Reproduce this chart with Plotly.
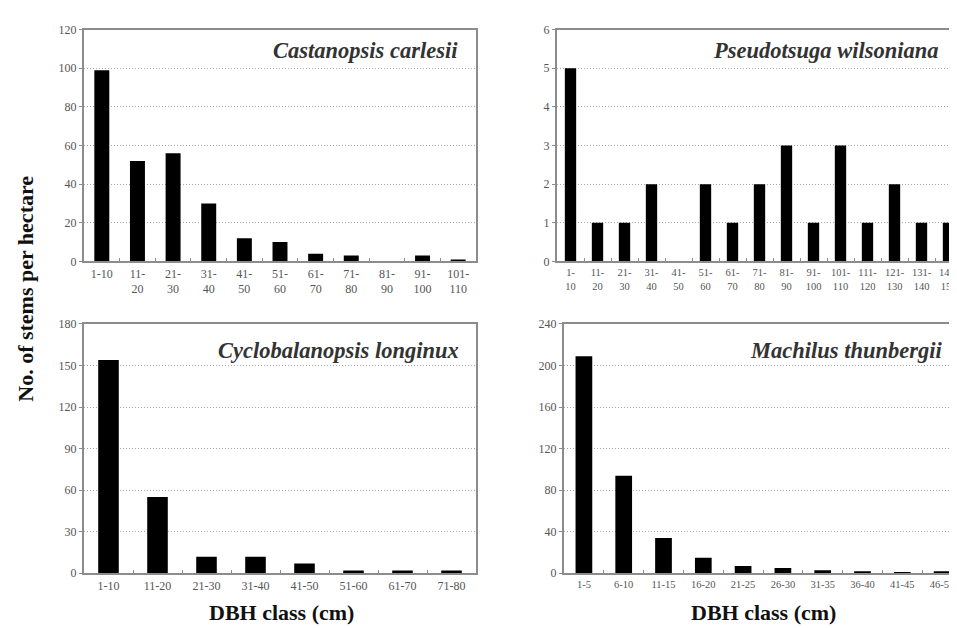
import plotly.graph_objects as go

# ---- data ----
cc_classes = ["1-10", "11-<br>20", "21-<br>30", "31-<br>40", "41-<br>50", "51-<br>60",
              "61-<br>70", "71-<br>80", "81-<br>90", "91-<br>100", "101-<br>110"]
cc_values = [99, 52, 56, 30, 12, 10, 4, 3, 0, 3, 1]

pw_classes = ["1-<br>10", "11-<br>20", "21-<br>30", "31-<br>40", "41-<br>50", "51-<br>60",
              "61-<br>70", "71-<br>80", "81-<br>90", "91-<br>100", "101-<br>110",
              "111-<br>120", "121-<br>130", "131-<br>140", "141-<br>150"]
pw_values = [5, 1, 1, 2, 0, 2, 1, 2, 3, 1, 3, 1, 2, 1, 1]

cl_classes = ["1-10", "11-20", "21-30", "31-40", "41-50", "51-60", "61-70", "71-80"]
cl_values = [154, 55, 12, 12, 7, 2, 2, 2]

mt_classes = ["1-5", "6-10", "11-15", "16-20", "21-25", "26-30", "31-35", "36-40", "41-45", "46-50"]
mt_values = [209, 94, 34, 15, 7, 5, 3, 2, 1, 2]

panels = [
    ("Castanopsis carlesii", cc_classes, cc_values, [0, 120], 20, 12),
    ("Pseudotsuga wilsoniana", pw_classes, pw_values, [0, 6], 1, 10.5),
    ("Cyclobalanopsis longinux", cl_classes, cl_values, [0, 180], 30, 12),
    ("Machilus thunbergii", mt_classes, mt_values, [0, 240], 40, 10.5),
]

W, H = 957, 628
xdoms = [[76 / W, 468 / W], [549 / W, 954 / W], [76 / W, 468 / W], [556 / W, 954 / W]]
ydoms = [[1 - 252 / H, 1 - 15 / H], [1 - 252 / H, 1 - 15 / H],
         [1 - 571 / H, 1 - 316 / H], [1 - 571 / H, 1 - 316 / H]]
title_pos = [(0.958, 0.911), (0.946, 0.911), (0.963, 0.894), (0.955, 0.894)]

SERIF = "Liberation Serif, Times New Roman, serif"
FRAME = "#8c8c8c"

fig = go.Figure()
annotations = []
for i, (name, cats, vals, yr, dt, xfs) in enumerate(panels):
    k = "" if i == 0 else str(i + 1)
    fig.add_trace(go.Bar(x=cats, y=vals, marker=dict(color="black", line=dict(width=0)),
                         width=0.42, xaxis="x" + k, yaxis="y" + k, showlegend=False))
    fig.layout["xaxis" + k] = dict(
        domain=xdoms[i], anchor="y" + k, type="category", showgrid=False,
        showline=True, linecolor=FRAME, linewidth=2, mirror=True,
        ticks="inside", tickson="boundaries", ticklen=3, tickcolor=FRAME, tickwidth=1,
        tickangle=0, tickfont=dict(family=SERIF, size=xfs, color="#555"), zeroline=False)
    fig.layout["yaxis" + k] = dict(
        domain=ydoms[i], anchor="x" + k, range=yr, dtick=dt, tick0=0,
        showline=True, linecolor=FRAME, linewidth=2, mirror=True,
        ticks="outside", ticklen=3, tickcolor=FRAME,
        showgrid=True, gridcolor="#a8a8a8", griddash="1px,2px", gridwidth=1,
        zeroline=False, tickfont=dict(family=SERIF, size=12, color="#555"))
    tx, ty = title_pos[i]
    annotations.append(dict(
        text="<b><i>" + name + "</i></b>", xref="x" + k + " domain", yref="y" + k + " domain",
        x=tx, y=ty, xanchor="right", yanchor="middle", showarrow=False,
        font=dict(family=SERIF, size=22.5, color="#333")))

annotations += [
    dict(text="<b>No. of stems per hectare</b>", xref="paper", yref="paper",
         x=18 / W, y=1 - 280 / H, xanchor="center", yanchor="middle",
         textangle=-90, showarrow=False,
         font=dict(family=SERIF, size=22, color="#111")),
    dict(text="<b>DBH class (cm)</b>", xref="paper", yref="paper",
         x=273 / W, y=1 - 611 / H, xanchor="center", yanchor="middle", showarrow=False,
         font=dict(family=SERIF, size=22, color="#111")),
    dict(text="<b>DBH class (cm)</b>", xref="paper", yref="paper",
         x=755 / W, y=1 - 611 / H, xanchor="center", yanchor="middle", showarrow=False,
         font=dict(family=SERIF, size=22, color="#111")),
]

fig.update_layout(width=W, height=H, margin=dict(l=0, r=0, t=0, b=0),
                  paper_bgcolor="white", plot_bgcolor="white",
                  annotations=annotations, bargap=0.58)

fig.write_html("out.html")
